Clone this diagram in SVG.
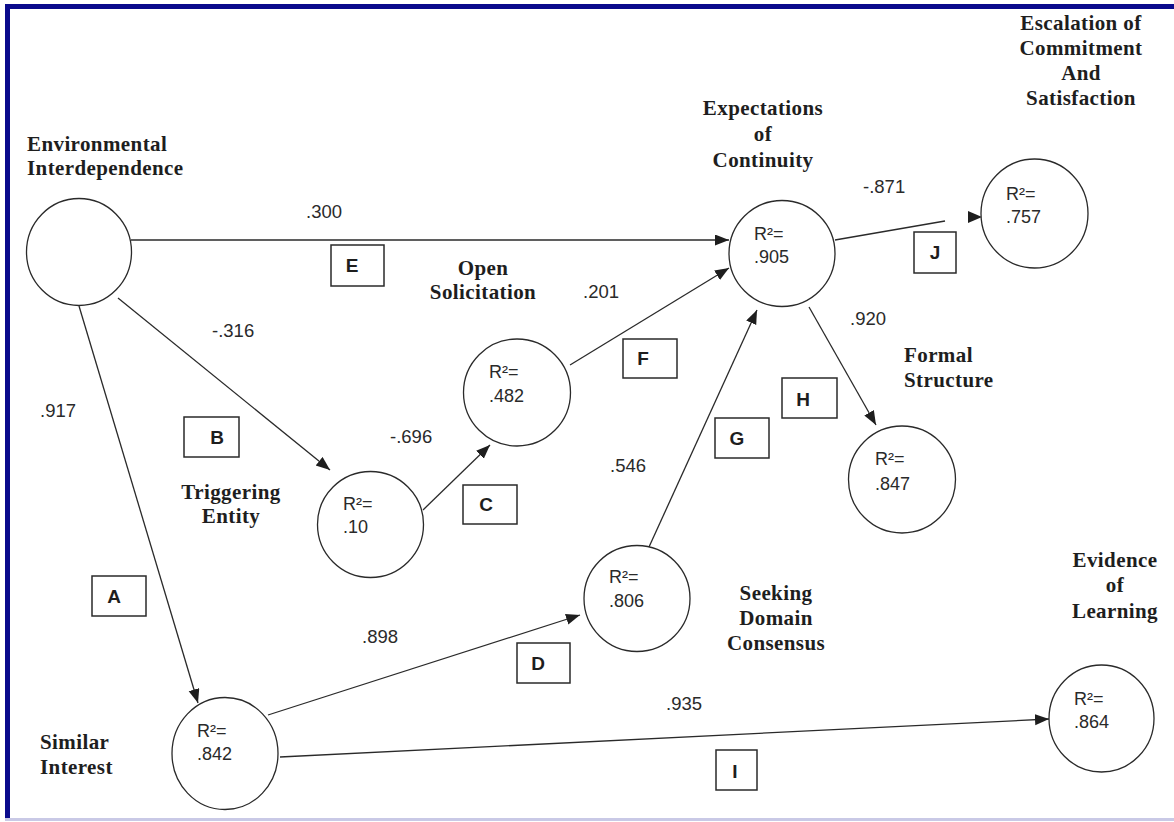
<svg xmlns="http://www.w3.org/2000/svg" width="1174" height="822" viewBox="0 0 1174 822">
<style>
.lbl{font-family:"Liberation Serif","Times New Roman",serif;font-weight:bold;font-size:21px;letter-spacing:0.4px;fill:#1e1e1e}
.num{font-family:"Liberation Sans",Arial,sans-serif;font-size:18.5px;fill:#2a2a2a}
.r2{font-family:"Liberation Sans",Arial,sans-serif;font-size:18px;fill:#2a2a2a}
.box{fill:#fff;stroke:#2a2a2a;stroke-width:1.5}
.boxt{font-family:"Liberation Sans",Arial,sans-serif;font-weight:bold;font-size:19px;fill:#1e1e1e;text-anchor:middle}
.node{fill:#fff;stroke:#2a2a2a;stroke-width:1.3}
.edge{fill:none;stroke:#2a2a2a;stroke-width:1.3}
.mid{text-anchor:middle}
</style>
<defs>
<marker id="arr" markerUnits="userSpaceOnUse" markerWidth="16" markerHeight="12" refX="14" refY="5.5" orient="auto" viewBox="0 0 16 12">
<path d="M0,0 L14,5.5 L0,11 Z" fill="#1e1e1e"/>
</marker>
</defs>
<rect x="0" y="0" width="1174" height="822" fill="#fff"/>
<rect x="5" y="4" width="1169" height="5" fill="#0a0a8c"/>
<rect x="5" y="4" width="5" height="815" fill="#0a0a8c"/>
<rect x="5" y="818" width="1169" height="3" fill="#c9c9e6"/>

<g id="connectors">
<line class="edge" x1="131" y1="240" x2="729" y2="240" marker-end="url(#arr)"/>
<line class="edge" x1="79" y1="306" x2="198" y2="703" marker-end="url(#arr)"/>
<line class="edge" x1="118" y1="298" x2="330" y2="470" marker-end="url(#arr)"/>
<line class="edge" x1="423" y1="510" x2="490" y2="445" marker-end="url(#arr)"/>
<line class="edge" x1="570" y1="365" x2="729" y2="268" marker-end="url(#arr)"/>
<line class="edge" x1="649" y1="547" x2="757" y2="310" marker-end="url(#arr)"/>
<line class="edge" x1="809" y1="307" x2="876" y2="425" marker-end="url(#arr)"/>
<line class="edge" x1="268" y1="715" x2="580" y2="615" marker-end="url(#arr)"/>
<line class="edge" x1="280" y1="757" x2="1049" y2="719" marker-end="url(#arr)"/>
<line class="edge" x1="835" y1="240" x2="945" y2="221"/>
<path d="M968,211 L982,217 L968,223 Z" fill="#1e1e1e"/>
<text class="num" x="306" y="218">.300</text>
<text class="num" x="212" y="337">-.316</text>
<text class="num" x="40" y="417">.917</text>
<text class="num" x="390" y="443">-.696</text>
<text class="num" x="583" y="298">.201</text>
<text class="num" x="610" y="472">.546</text>
<text class="num" x="362" y="643">.898</text>
<text class="num" x="666" y="710">.935</text>
<text class="num" x="850" y="325">.920</text>
<text class="num" x="863" y="193">-.871</text>
<g id="boxA"><rect class="box" x="92" y="576" width="54" height="40"/><text class="boxt" x="114" y="603">A</text></g>
<g id="boxB"><rect class="box" x="184" y="417" width="55" height="40"/><text class="boxt" x="217" y="444">B</text></g>
<g id="boxC"><rect class="box" x="463" y="485" width="54" height="39"/><text class="boxt" x="486" y="511">C</text></g>
<g id="boxD"><rect class="box" x="517" y="643" width="53" height="40"/><text class="boxt" x="538" y="670">D</text></g>
<g id="boxE"><rect class="box" x="331" y="245" width="53" height="41"/><text class="boxt" x="352" y="272">E</text></g>
<g id="boxF"><rect class="box" x="623" y="339" width="54" height="39"/><text class="boxt" x="643" y="365">F</text></g>
<g id="boxG"><rect class="box" x="715" y="418" width="54" height="40"/><text class="boxt" x="737" y="445">G</text></g>
<g id="boxH"><rect class="box" x="782" y="378" width="55" height="40"/><text class="boxt" x="803" y="406">H</text></g>
<g id="boxI"><rect class="box" x="716" y="750" width="41" height="40"/><text class="boxt" x="735" y="778">I</text></g>
<g id="boxJ"><rect class="box" x="914" y="232" width="42" height="41"/><text class="boxt" x="935" y="259">J</text></g>
</g>

<g id="env">
<ellipse class="node" cx="79" cy="252" rx="52.5" ry="53.5"/>
<text class="lbl" x="27" y="151">Environmental</text>
<text class="lbl" x="27" y="175">Interdependence</text>
</g>
<g id="expect">
<circle class="node" cx="782" cy="253.5" r="53"/>
<text class="r2" x="754" y="240">R²=</text>
<text class="r2" x="754" y="263">.905</text>
<text class="lbl mid" x="763" y="115">Expectations</text>
<text class="lbl mid" x="763" y="141">of</text>
<text class="lbl mid" x="763" y="167">Continuity</text>
</g>
<g id="escalation">
<ellipse class="node" cx="1034.5" cy="213.5" rx="53.5" ry="54.5"/>
<text class="r2" x="1006" y="200">R²=</text>
<text class="r2" x="1006" y="223">.757</text>
<text class="lbl mid" x="1081" y="30">Escalation of</text>
<text class="lbl mid" x="1081" y="55">Commitment</text>
<text class="lbl mid" x="1081" y="80">And</text>
<text class="lbl mid" x="1081" y="105">Satisfaction</text>
</g>
<g id="open">
<circle class="node" cx="517" cy="392.5" r="53.5"/>
<text class="r2" x="489" y="378">R²=</text>
<text class="r2" x="489" y="402">.482</text>
<text class="lbl mid" x="483" y="275">Open</text>
<text class="lbl mid" x="483" y="299">Solicitation</text>
</g>
<g id="trigger">
<circle class="node" cx="370.5" cy="524.5" r="53"/>
<text class="r2" x="343" y="510">R²=</text>
<text class="r2" x="343" y="533">.10</text>
<text class="lbl mid" x="231" y="499">Triggering</text>
<text class="lbl mid" x="231" y="523">Entity</text>
</g>
<g id="formal">
<circle class="node" cx="902" cy="479.5" r="53.5"/>
<text class="r2" x="875" y="465">R²=</text>
<text class="r2" x="875" y="490">.847</text>
<text class="lbl" x="904" y="362">Formal</text>
<text class="lbl" x="904" y="387">Structure</text>
</g>
<g id="seeking">
<circle class="node" cx="637" cy="598.5" r="53"/>
<text class="r2" x="609" y="583">R²=</text>
<text class="r2" x="609" y="607">.806</text>
<text class="lbl mid" x="776" y="600">Seeking</text>
<text class="lbl mid" x="776" y="625">Domain</text>
<text class="lbl mid" x="776" y="650">Consensus</text>
</g>
<g id="similar">
<ellipse class="node" cx="225" cy="753.5" rx="53" ry="56"/>
<text class="r2" x="197" y="737">R²=</text>
<text class="r2" x="197" y="760">.842</text>
<text class="lbl" x="40" y="749">Similar</text>
<text class="lbl" x="40" y="774">Interest</text>
</g>
<g id="learning">
<ellipse class="node" cx="1101.5" cy="718.5" rx="52.5" ry="53.5"/>
<text class="r2" x="1074" y="705">R²=</text>
<text class="r2" x="1074" y="728">.864</text>
<text class="lbl mid" x="1115" y="567">Evidence</text>
<text class="lbl mid" x="1115" y="592">of</text>
<text class="lbl mid" x="1115" y="618">Learning</text>
</g>
</svg>
